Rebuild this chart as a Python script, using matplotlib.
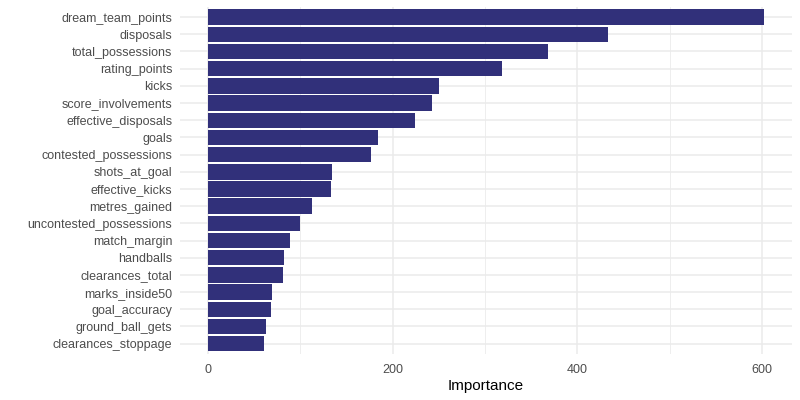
import matplotlib
matplotlib.use("Agg")
import matplotlib.pyplot as plt
from matplotlib.ticker import MultipleLocator

# variable importance, top 20 features
features = [
    "dream_team_points", "disposals", "total_possessions", "rating_points",
    "kicks", "score_involvements", "effective_disposals", "goals",
    "contested_possessions", "shots_at_goal", "effective_kicks",
    "metres_gained", "uncontested_possessions", "match_margin", "handballs",
    "clearances_total", "marks_inside50", "goal_accuracy",
    "ground_ball_gets", "clearances_stoppage",
]
importance = [
    602.2, 433.2, 368.2, 318.4, 250.2, 242.6, 224.2, 184.1, 176.5, 134.3,
    133.2, 112.6, 99.6, 88.8, 82.3, 81.2, 69.3, 68.2, 62.8, 60.7,
]

plt.rcParams['font.family'] = ['Liberation Sans', 'DejaVu Sans']

fig = plt.figure(figsize=(8, 4), dpi=100)
ax = fig.add_axes([0.225, 0.115, 0.765, 0.868])

# plot from the bottom up so the biggest sits on top
ypos = list(range(len(features)))[::-1]
ax.barh(ypos, importance, height=0.9, color='#31307a', zorder=3)

xmax = max(importance)
ax.set_xlim(-0.05 * xmax, 1.05 * xmax)
ax.set_ylim(-0.6, len(features) - 1 + 0.6)

ax.set_yticks(ypos)
ax.set_yticklabels(features)
ax.xaxis.set_major_locator(MultipleLocator(200))
ax.xaxis.set_minor_locator(MultipleLocator(100))

ax.grid(True, which='major', color='#ebebeb', linewidth=1.1, zorder=0)
ax.grid(True, which='minor', axis='x', color='#ebebeb', linewidth=0.6, zorder=0)
for s in ax.spines.values():
    s.set_visible(False)
ax.tick_params(which='both', length=0, labelsize=9, colors='#4d4d4d')
ax.tick_params(axis='y', pad=5.5)
ax.tick_params(axis='x', pad=7.5)
ax.set_xlabel('Importance', fontsize=11, color='black', labelpad=2)

fig.savefig('out.png', dpi=100)
